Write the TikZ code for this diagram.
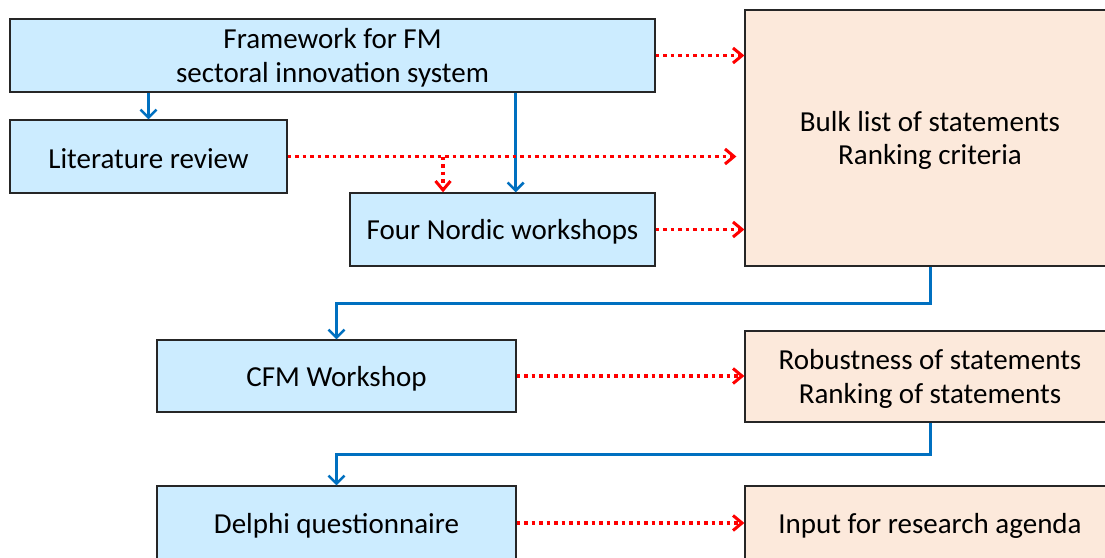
\documentclass[tikz,border=0pt]{standalone}
\usepackage{fontspec}
\setmainfont{Carlito}
\usetikzlibrary{arrows.meta,calc}
\definecolor{boxblue}{RGB}{204,236,255}
\definecolor{boxpeach}{RGB}{252,233,219}
\definecolor{flowblue}{RGB}{0,112,192}
\tikzset{
  x=1pt, y=-1pt,
  every node/.style={font=\fontsize{29}{33.5}\selectfont, align=center, inner sep=0pt},
  boxtext/.style={label={[yshift=-2.5pt]center:{#1}}},
  stepbox/.style={draw=black!85, line width=1.3pt, fill=boxblue, minimum height=73pt, boxtext=#1},
  resultbox/.style={draw=black!85, line width=1.3pt, fill=boxpeach, boxtext=#1},
  flow/.style={draw=flowblue, line width=3pt, -{Straight Barb[length=8pt,width=16pt,line width=2.5pt]}},
  feed/.style={draw=red, line width=3.6pt, dash pattern=on 3.6pt off 3.9pt, -{Straight Barb[length=9pt,width=15pt,line width=3pt]}},
}
\begin{document}
\begin{tikzpicture}
\begin{scope}
\clip (0,0) rectangle (1105,557);
\fill[white] (0,0) rectangle (1105,557);
% process steps
\node[stepbox={Framework for FM\\sectoral innovation system}, minimum width=645pt] (fw) at (332.5,55.5) {};
\node[stepbox={Literature review}, minimum width=277pt] (lit) at (148.5,156.5) {};
\node[stepbox={Four Nordic workshops}, minimum width=305pt] (nordic) at (502.5,229.5) {};
\node[stepbox={CFM Workshop}, minimum width=359pt, minimum height=72pt] (cfm) at (336.5,376) {};
\node[stepbox={Delphi questionnaire}, minimum width=359pt, minimum height=74pt] (delphi) at (336.5,523) {};
% outcomes
\node[resultbox={Bulk list of statements\\Ranking criteria}, minimum width=370pt, minimum height=256pt] (bulk) at (930,138) {};
\node[resultbox={Robustness of statements\\Ranking of statements}, minimum width=370pt, minimum height=91pt] (rob) at (930,376.5) {};
\node[resultbox={Input for research agenda}, minimum width=370pt, minimum height=74pt] (agenda) at (930,523) {};
% main flow
\draw[flow] (lit.north |- fw.south) -- (lit.north);
\draw[flow] ([xshift=-140pt]nordic.north east |- fw.south) -- ([xshift=-140pt]nordic.north east);
\draw[flow] (bulk.south) -- ++(0,37) -| (cfm.north);
\draw[flow] (rob.south) -- ++(0,32) -| (delphi.north);
% contributions to outcomes
\coordinate (litend) at ([xshift=-8pt]lit.east -| bulk.west);
\coordinate (split) at ([xshift=-59.5pt]nordic.north |- lit.east);
\draw[feed] (fw.east) -- (fw.east -| bulk.west);
\draw[feed] (lit.east) -- (litend);
\draw[feed] (split) -- (split |- nordic.north);
\draw[feed] (nordic.east) -- (nordic.east -| bulk.west);
\draw[feed] (cfm.east) -- (cfm.east -| rob.west);
\draw[feed] (delphi.east) -- (delphi.east -| agenda.west);
\end{scope}
\pgfresetboundingbox
\useasboundingbox (0,0) rectangle (1105,557);
\end{tikzpicture}
\end{document}
